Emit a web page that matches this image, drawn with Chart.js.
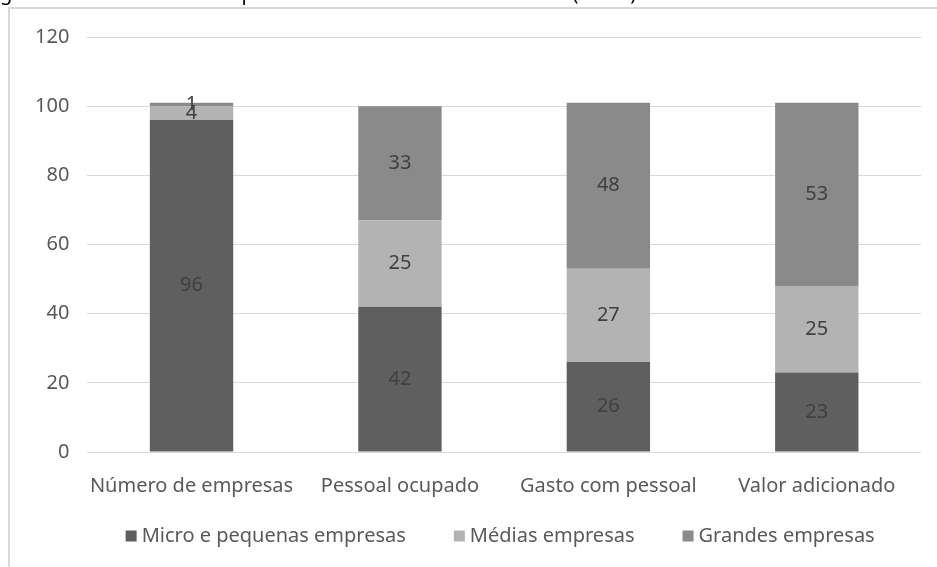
<!DOCTYPE html>
<html>
<head>
<meta charset="utf-8">
<script src="https://cdn.jsdelivr.net/npm/chart.js@4"></script>
<style>
  html, body { margin: 0; padding: 0; background: #fff; }
  #wrap { width: 937px; height: 567px; }
</style>
</head>
<body>
<div id="wrap"><canvas id="myChart-Porte" width="937" height="567"></canvas></div>
<script>
const categorias = ['Número de empresas', 'Pessoal ocupado', 'Gasto com pessoal', 'Valor adicionado'];
const microPequenas = [96, 42, 26, 23];
const medias = [4, 25, 27, 25];
const grandes = [1, 33, 48, 53];
const yTicks = [0, 20, 40, 60, 80, 100, 120];

const fonte = 'Noto Sans';

// titulo cortado no topo + moldura cinza
const moldura = {
  id: 'moldura',
  beforeDraw(chart) {
    const ctx = chart.ctx;
    ctx.save();
    ctx.fillStyle = '#d9d9d9';
    ctx.fillRect(8, 7, 2, 560);
    ctx.fillRect(8, 7, 929, 2);
    ctx.fillStyle = '#000';
    ctx.font = '20px "' + fonte + '"';
    ctx.textBaseline = 'alphabetic';
    const off = ctx.measureText('Fi').width;
    ctx.fillText('Figura 1 – Estrutura das empresas do setor industrial no Brasil (em %)', -off, 0);
    ctx.restore();
  }
};

// rotulos de valor no meio de cada segmento
const rotulos = {
  id: 'rotulos',
  afterDatasetsDraw(chart) {
    const ctx = chart.ctx;
    ctx.save();
    ctx.fillStyle = '#404040';
    ctx.font = '20px "' + fonte + '"';
    ctx.textAlign = 'center';
    ctx.textBaseline = 'middle';
    chart.data.datasets.forEach((ds, i) => {
      chart.getDatasetMeta(i).data.forEach((bar, j) => {
        const y = (bar.y + bar.base) / 2;
        ctx.fillText(String(ds.data[j]), bar.x, y);
      });
    });
    ctx.restore();
  }
};

// legenda embaixo, quadradinho colado no texto
const legenda = {
  id: 'legenda',
  afterDraw(chart) {
    const ctx = chart.ctx;
    const box = 11, gapTexto = 5, gapItem = 48, y = 536;
    ctx.save();
    ctx.font = '20px "' + fonte + '"';
    ctx.textBaseline = 'middle';
    const itens = chart.data.datasets.map(ds => ({
      texto: ds.label,
      cor: ds.backgroundColor,
      w: box + gapTexto + ctx.measureText(ds.label).width
    }));
    const total = itens.reduce((s, it) => s + it.w, 0) + gapItem * (itens.length - 1);
    const area = chart.chartArea;
    let x = (area.left + area.right) / 2 - 4 - total / 2;
    itens.forEach(it => {
      ctx.fillStyle = it.cor;
      ctx.fillRect(x, y - box / 2, box, box);
      ctx.fillStyle = '#595959';
      ctx.fillText(it.texto, x + box + gapTexto, y);
      x += it.w + gapItem;
    });
    ctx.restore();
  }
};

const ctxPorte = document.getElementById('myChart-Porte');

new Chart(ctxPorte, {
  type: 'bar',
  data: {
    labels: categorias,
    datasets: [
      {
        label: 'Micro e pequenas empresas',
        data: microPequenas,
        backgroundColor: '#5f5f5f'
      },
      {
        label: 'Médias empresas',
        data: medias,
        backgroundColor: '#b3b3b3'
      },
      {
        label: 'Grandes empresas',
        data: grandes,
        backgroundColor: '#8a8a8a'
      }
    ]
  },
  options: {
    responsive: false,
    animation: false,
    layout: {
      padding: { left: 17, right: 16, top: 37, bottom: 47 }
    },
    datasets: {
      bar: {
        categoryPercentage: 1,
        barPercentage: 0.4
      }
    },
    scales: {
      x: {
        stacked: true,
        grid: { display: false, drawTicks: false },
        border: { display: false },
        afterFit(scale) {
          scale.paddingLeft = 0;
          scale.paddingRight = 0;
        },
        ticks: {
          color: '#595959',
          padding: 22,
          maxRotation: 0,
          minRotation: 0,
          autoSkip: false,
          font: { family: fonte, size: 20 }
        }
      },
      y: {
        stacked: true,
        min: 0,
        max: 120,
        afterBuildTicks(scale) {
          scale.ticks = yTicks.map(v => ({ value: v }));
        },
        grid: { color: '#d9d9d9', drawTicks: false },
        border: { display: false },
        ticks: {
          color: '#595959',
          padding: 18,
          font: { family: fonte, size: 20 }
        }
      }
    },
    plugins: {
      tooltip: { enabled: false },
      legend: { display: false }
    }
  },
  plugins: [moldura, rotulos, legenda]
});
</script>
</body>
</html>
